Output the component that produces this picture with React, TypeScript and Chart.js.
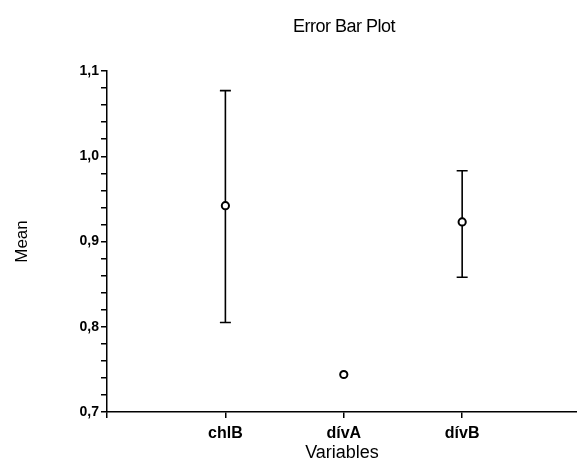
import React, { useEffect, useRef } from "react";
import { Chart, registerables } from "chart.js";

Chart.register(...registerables);

const categories = ["chlB", "dívA", "dívB"];
const categoryPositions = [1, 2, 3];
const means = [0.942, 0.744, 0.923];
const upperBounds: (number | null)[] = [1.077, null, 0.983];
const lowerBounds: (number | null)[] = [0.805, null, 0.858];
const yMajorTicks = [0.7, 0.8, 0.9, 1.0, 1.1];

const FONT = "'Liberation Sans', Arial, Helvetica, sans-serif";

const errorBarPlugin = {
  id: "errorBars",
  beforeDatasetsDraw(chart: any) {
    const { ctx, scales } = chart;
    const xs = scales.x;
    const ys = scales.y;
    ctx.save();
    ctx.strokeStyle = "#000";
    ctx.lineWidth = 1.6;
    for (let i = 0; i < means.length; i++) {
      const up = upperBounds[i];
      const lo = lowerBounds[i];
      if (up == null || lo == null) continue;
      const x = xs.getPixelForValue(categoryPositions[i]);
      const yU = ys.getPixelForValue(up);
      const yL = ys.getPixelForValue(lo);
      const cap = 5.5;
      ctx.beginPath();
      ctx.moveTo(x, yU);
      ctx.lineTo(x, yL);
      ctx.moveTo(x - cap, yU);
      ctx.lineTo(x + cap, yU);
      ctx.moveTo(x - cap, yL);
      ctx.lineTo(x + cap, yL);
      ctx.stroke();
    }
    ctx.restore();
  },
  afterDraw(chart: any) {
    const { ctx, chartArea } = chart;
    ctx.save();
    ctx.fillStyle = "#000";
    ctx.font = `18px ${FONT}`;
    ctx.textAlign = "center";
    ctx.textBaseline = "middle";
    try { (ctx as any).letterSpacing = "-0.5px"; } catch (e) {}
    ctx.fillText("Error Bar Plot", (chartArea.left + chartArea.right) / 2 + 2, 27);
    ctx.restore();
  },
};

export default function App() {
  const ref = useRef<HTMLCanvasElement | null>(null);

  useEffect(() => {
    document.body.style.margin = "0";
    const canvas = ref.current;
    if (!canvas) return;
    const chart = new Chart(canvas, {
      type: "scatter",
      data: {
        datasets: [
          {
            data: means.map((m, i) => ({ x: categoryPositions[i], y: m })),
            pointRadius: 3.6,
            pointHoverRadius: 3.6,
            pointBorderWidth: 2,
            pointBackgroundColor: "#fff",
            pointBorderColor: "#000",
            showLine: false,
            clip: false,
          },
        ],
      },
      options: {
        animation: false,
        responsive: false,
        devicePixelRatio: 1,
        layout: { autoPadding: false, padding: { top: 71, right: 0, left: 0, bottom: 0 } },
        plugins: {
          legend: { display: false },
          tooltip: { enabled: false },
          title: { display: false },
        },
        scales: {
          x: {
            type: "linear",
            min: 0,
            max: 3.97,
            afterFit: (s: any) => {
              s.height = 55;
              s.paddingRight = 0;
              s.paddingLeft = 0;
            },
            afterBuildTicks: (s: any) => {
              s.ticks = [0, 1, 2, 3].map((v) => ({ value: v }));
            },
            ticks: {
              autoSkip: false,
              maxRotation: 0,
              padding: 6,
              color: "#000",
              font: { family: FONT, size: 16, weight: "bold" },
              callback: (v: any) => {
                const idx = categoryPositions.indexOf(Number(v));
                return idx >= 0 ? categories[idx] : "";
              },
            },
            grid: {
              display: true,
              drawOnChartArea: false,
              drawTicks: true,
              tickLength: 6,
              color: "#000",
              lineWidth: 1.5,
            },
            border: { display: true, color: "#000", width: 1.5 },
            title: {
              display: true,
              text: "Variables",
              color: "#000",
              font: { family: FONT, size: 18 },
              padding: { top: 0, bottom: 3 },
            },
          },
          y: {
            type: "linear",
            min: 0.7,
            max: 1.1,
            afterFit: (s: any) => {
              s.width = 107;
            },
            afterBuildTicks: (s: any) => {
              const t: any[] = [];
              for (let k = 35; k <= 55; k++) t.push({ value: k / 50 });
              s.ticks = t;
            },
            ticks: {
              autoSkip: false,
              padding: 2,
              color: "#000",
              font: { family: FONT, size: 14, weight: "bold" },
              callback: (v: any) => {
                const n = Number(v);
                const major = yMajorTicks.find((m) => Math.abs(m - n) < 1e-6);
                return major !== undefined ? major.toFixed(1).replace(".", ",") : "";
              },
            },
            grid: {
              display: true,
              drawOnChartArea: false,
              drawTicks: true,
              tickLength: 6,
              color: "#000",
              lineWidth: 1.5,
            },
            border: { display: true, color: "#000", width: 1.5 },
            title: {
              display: true,
              text: "Mean",
              color: "#000",
              font: { family: FONT, size: 17 },
              padding: { top: 12, bottom: 0 },
            },
          },
        },
      },
      plugins: [errorBarPlugin],
    });
    return () => chart.destroy();
  }, []);

  return (
    <div style={{ position: "absolute", left: 0, top: 0, width: 577, height: 467, background: "#fff" }}>
      <canvas ref={ref} width={577} height={467} style={{ display: "block", width: 577, height: 467 }} />
    </div>
  );
}
